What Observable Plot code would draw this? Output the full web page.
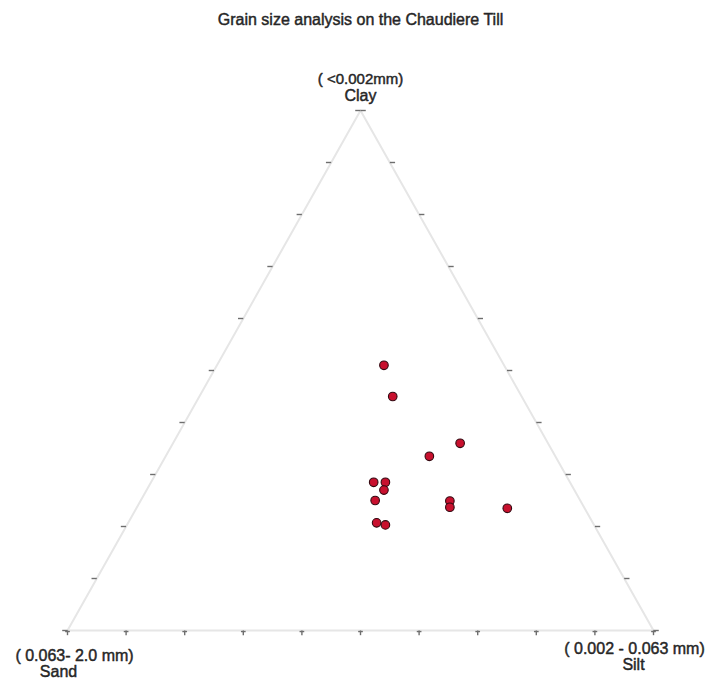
<!DOCTYPE html>
<html>
<head>
<meta charset="utf-8">
<script src="https://cdn.jsdelivr.net/npm/d3@7"></script>
<script src="https://cdn.jsdelivr.net/npm/@observablehq/plot@0.6"></script>
<style>
  html, body { margin: 0; padding: 0; background: #fff; }
  #chart svg { display: block; }
</style>
</head>
<body>
<div id="chart"></div>
<script>
const title = "Grain size analysis on the Chaudiere Till";
const vertexNames = ["Clay", "Sand", "Silt"];
const vertexRanges = ["( <0.002mm)", "( 0.063- 2.0 mm)", "( 0.002 - 0.063 mm)"];

// Sample compositions (percent)
const clay = [51, 45, 36, 33.5, 28.5, 28.5, 27, 25, 20.7, 20.3, 24.9, 23.7, 23.5];
const silt = [28.5, 33, 49, 45, 38, 40, 40.5, 40, 42.4, 44.1, 52.8, 53.4, 63.3];
const sand = [20.5, 22, 15, 21.5, 33.5, 31.5, 32.5, 35, 36.9, 35.6, 22.3, 22.9, 13.2];

const tickSteps = [0, 10, 20, 30, 40, 50, 60, 70, 80, 90, 100];

// ternary -> cartesian (x in [0,1], y = clay fraction)
const samples = clay.map((c, i) => {
  const t = c + silt[i] + sand[i];
  const cc = c / t, ss = silt[i] / t;
  return {x: ss + cc / 2, y: cc};
});

const corners = [{x: 0, y: 0}, {x: 1, y: 0}, {x: 0.5, y: 1}, {x: 0, y: 0}];
const bottomTicks = tickSteps.map(p => ({x: p / 100, y: 0}));
const leftTicks = tickSteps.map(p => ({x: p / 200, y: p / 100}));
const rightTicks = tickSteps.map(p => ({x: 1 - p / 200, y: p / 100}));

const txt = {fontFamily: "Liberation Sans, Arial, sans-serif", fill: "#262626", stroke: "#262626", strokeWidth: 0.45, fontSize: 16, lineAnchor: "bottom"};
const smallTxt = {...txt, fontSize: 15};
const tickStyle = {stroke: "#6e6e6e", strokeWidth: 1.4};

const plot = Plot.plot({
  width: 707,
  height: 679,
  marginLeft: 67,
  marginRight: 54,
  marginTop: 110,
  marginBottom: 49,
  x: {domain: [0, 1], axis: null},
  y: {domain: [0, 1], axis: null},
  style: {background: "#fff", fontFamily: "Liberation Sans, Arial, sans-serif"},
  marks: [
    Plot.line(corners, {x: "x", y: "y", stroke: "#e6e6e6", strokeWidth: 2}),
    Plot.link(bottomTicks, {x1: "x", x2: "x", y1: "y", y2: d => d.y - 0.009, ...tickStyle}),
    Plot.link(bottomTicks, {x1: d => d.x - 0.004, x2: d => d.x + 0.004, y1: d => d.y - 0.002, y2: d => d.y - 0.002, ...tickStyle}),
    Plot.link(leftTicks, {x1: "x", x2: d => d.x - 0.009, y1: "y", y2: "y", ...tickStyle}),
    Plot.link(rightTicks, {x1: "x", x2: d => d.x + 0.009, y1: "y", y2: "y", ...tickStyle}),
    Plot.dot(samples, {x: "x", y: "y", r: 4.3, fill: "#c8102e", stroke: "#330810", strokeWidth: 1.1}),
    // title
    Plot.text([title], {frameAnchor: "top", dy: -86, ...txt}),
    // Clay (top)
    Plot.text([vertexRanges[0]], {x: () => 0.5, y: () => 1, dy: -27, ...smallTxt}),
    Plot.text([vertexNames[0]], {x: () => 0.5, y: () => 1, dy: -10, ...txt}),
    // Sand (bottom-left)
    Plot.text([vertexRanges[1]], {x: () => 0, y: () => 0, dx: 7, dy: 30, ...txt}),
    Plot.text([vertexNames[1]], {x: () => 0, y: () => 0, dx: -9, dy: 46, ...txt}),
    // Silt (bottom-right)
    Plot.text([vertexRanges[2]], {x: () => 1, y: () => 0, dx: -19, dy: 23, ...txt}),
    Plot.text([vertexNames[2]], {x: () => 1, y: () => 0, dx: -20, dy: 39, ...txt})
  ]
});

document.getElementById("chart").appendChild(plot);
</script>
</body>
</html>
